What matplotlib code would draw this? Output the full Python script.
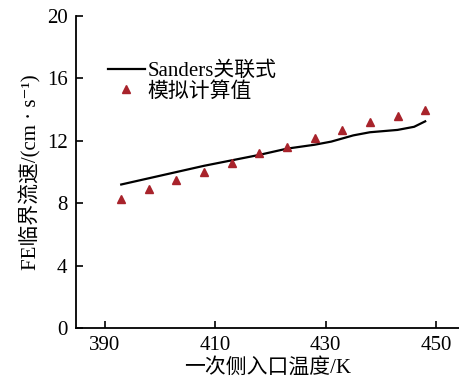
import matplotlib
matplotlib.use('Agg')
import matplotlib.pyplot as plt

plt.rcParams['font.family'] = ['Liberation Serif', 'Noto Sans CJK SC', 'DejaVu Sans']

# simulated values (triangles)
sim_T = [393, 398, 403, 408, 413, 418, 423, 428, 433, 438, 443, 448]
sim_v = [8.3, 8.9, 9.5, 10.0, 10.6, 11.2, 11.6, 12.2, 12.7, 13.2, 13.6, 14.0]

# Sanders correlation (line)
sanders_T = [393, 398, 403, 408, 413, 418, 423, 428, 431, 435, 438, 443, 446, 448]
sanders_v = [9.2, 9.6, 10.0, 10.4, 10.75, 11.1, 11.5, 11.75, 11.95, 12.35, 12.55, 12.7, 12.9, 13.25]

xticks = [390, 410, 430, 450]
yticks = [0, 4, 8, 12, 16, 20]

fig = plt.figure(figsize=(4.6, 3.87), dpi=100)
ax = fig.add_axes([0.165, 0.1525, 0.835, 0.806])

ax.plot(sanders_T, sanders_v, color='black', lw=1.6, label='Sanders关联式')
ax.plot(sim_T, sim_v, ls='none', marker='^', ms=6, color='#a8232b', label='模拟计算值')

ax.set_xlim(384.8, 454.3)
ax.set_ylim(0, 20)
ax.set_xticks(xticks)
ax.set_yticks(yticks)
ax.tick_params(direction='in', labelsize=15, length=5, width=1.2, pad=6)
for s in ['top', 'right']:
    ax.spines[s].set_visible(False)
for s in ['left', 'bottom']:
    ax.spines[s].set_linewidth(1.3)

ax.set_xlabel('一次侧入口温度/K', fontsize=15, labelpad=2)
ax.set_ylabel('FE临界流速/(cm · s⁻¹)', fontsize=15, labelpad=4)

ax.legend(loc='upper left', bbox_to_anchor=(0.05, 0.895), frameon=False, fontsize=15,
          handlelength=1.8, handletextpad=0.1, labelspacing=0.05, borderpad=0.1)

fig.savefig('out.png', dpi=100)
